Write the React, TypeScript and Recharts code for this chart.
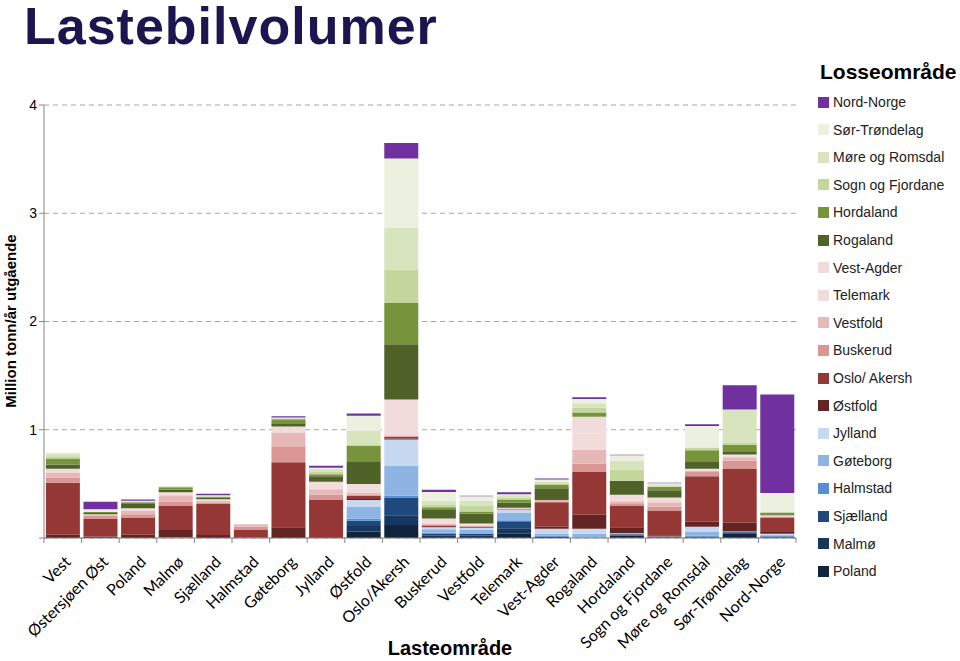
import { Bar, BarChart, CartesianGrid, XAxis, YAxis } from "recharts"

const categories = [
    "Vest", "Østersjøen Øst", "Poland", "Malmø", "Sjælland", "Halmstad", "Gøteborg", "Jylland", "Østfold", "Oslo/Akersh",
    "Buskerud", "Vestfold", "Telemark", "Vest-Agder", "Rogaland", "Hordaland", "Sogn og Fjordane", "Møre og Romsdal", "Sør-Trøndelag", "Nord-Norge",
]

// one array per unloading area, values in million tonnes, same order as categories
const poland = [0, 0, 0, 0, 0, 0, 0, 0, 0.06, 0.12, 0.01, 0.01, 0.04, 0.01, 0, 0.02, 0.005, 0.005, 0.04, 0.005]
const malmo = [0, 0, 0, 0, 0, 0, 0, 0, 0.05, 0.09, 0.01, 0.01, 0.05, 0, 0, 0.005, 0, 0, 0.01, 0]
const sjaelland = [0, 0, 0, 0, 0, 0, 0, 0, 0.05, 0.165, 0.02, 0.02, 0.065, 0.005, 0, 0.01, 0.005, 0.01, 0.01, 0.01]
const halmstad = [0, 0, 0, 0, 0, 0, 0, 0, 0.02, 0.015, 0.01, 0.005, 0.01, 0.005, 0.005, 0, 0, 0.005, 0.005, 0.005]
const goteborg = [0, 0, 0, 0, 0, 0, 0, 0, 0.11, 0.28, 0.03, 0.03, 0.065, 0.02, 0.035, 0.005, 0.005, 0.04, 0, 0.01]
const jylland = [0, 0, 0, 0.005, 0, 0, 0, 0, 0.06, 0.24, 0.02, 0.02, 0.03, 0.045, 0.045, 0.005, 0, 0.045, 0, 0.01]
const ostfold = [0.03, 0.015, 0.03, 0.07, 0.028, 0.005, 0.1, 0, 0.01, 0.01, 0, 0, 0, 0.02, 0.13, 0.055, 0.01, 0.045, 0.077, 0.015]
const oslo = [0.48, 0.16, 0.16, 0.22, 0.286, 0.068, 0.6, 0.35, 0.03, 0.015, 0.01, 0.01, 0.005, 0.225, 0.4, 0.2, 0.23, 0.42, 0.5, 0.13]
const buskerud = [0.05, 0.03, 0.03, 0.04, 0.015, 0.03, 0.148, 0.05, 0.01, 0.005, 0.01, 0.005, 0.005, 0.01, 0.07, 0.02, 0.035, 0.04, 0.075, 0.01]
const vestfold = [0.04, 0.01, 0.03, 0.06, 0.015, 0.025, 0.123, 0.05, 0.02, 0.01, 0.01, 0.005, 0.005, 0.01, 0.13, 0.02, 0.04, 0.01, 0.03, 0.005]
const telemark = [0.02, 0.005, 0.015, 0.015, 0.01, 0, 0.03, 0.04, 0.04, 0.15, 0.025, 0.01, 0, 0, 0.15, 0.03, 0.02, 0.01, 0.015, 0.005]
const vestAgder = [0.02, 0, 0.01, 0.013, 0.005, 0, 0.03, 0.03, 0.04, 0.18, 0.025, 0.01, 0.005, 0, 0.155, 0.03, 0.025, 0.01, 0.01, 0.005]
const rogaland = [0.04, 0.01, 0.04, 0.025, 0.015, 0, 0.03, 0.05, 0.21, 0.51, 0.085, 0.09, 0.045, 0.11, 0, 0.13, 0.065, 0.07, 0.03, 0.01]
const hordaland = [0.055, 0.01, 0.015, 0.02, 0.005, 0, 0.037, 0.02, 0.14, 0.38, 0.02, 0.02, 0.03, 0.03, 0.04, 0, 0.03, 0.1, 0.06, 0.015]
const sogn = [0.02, 0, 0.005, 0.005, 0.005, 0, 0.005, 0.02, 0.01, 0.31, 0.02, 0.05, 0.02, 0.015, 0.045, 0.1, 0, 0.025, 0.015, 0]
const more = [0.02, 0.005, 0.005, 0.005, 0.005, 0, 0.005, 0.03, 0.13, 0.385, 0.04, 0.05, 0.02, 0.015, 0.04, 0.085, 0.02, 0, 0.31, 0.005]
const sorTrondelag = [0.015, 0.02, 0.005, 0.005, 0.005, 0, 0.005, 0.01, 0.14, 0.64, 0.08, 0.04, 0.01, 0.02, 0.04, 0.05, 0.015, 0.2, 0, 0.175]
const nordNorge = [0, 0.07, 0.01, 0, 0.015, 0, 0.012, 0.018, 0.02, 0.145, 0.02, 0.005, 0.018, 0.01, 0.015, 0.005, 0.005, 0.015, 0.225, 0.91]

const yTicks = [0, 1, 2, 3, 4]

// bottom of the stack first
const series = [
    { name: "Poland", values: poland, color: "#10243E" },
    { name: "Malmø", values: malmo, color: "#17375E" },
    { name: "Sjælland", values: sjaelland, color: "#1F497D" },
    { name: "Halmstad", values: halmstad, color: "#558ED5" },
    { name: "Gøteborg", values: goteborg, color: "#8DB4E2" },
    { name: "Jylland", values: jylland, color: "#C6D9F1" },
    { name: "Østfold", values: ostfold, color: "#632523" },
    { name: "Oslo/ Akersh", values: oslo, color: "#953735" },
    { name: "Buskerud", values: buskerud, color: "#D99694" },
    { name: "Vestfold", values: vestfold, color: "#E6B9B8" },
    { name: "Telemark", values: telemark, color: "#F2DCDB" },
    { name: "Vest-Agder", values: vestAgder, color: "#F2DCDB" },
    { name: "Rogaland", values: rogaland, color: "#4F6228" },
    { name: "Hordaland", values: hordaland, color: "#77933C" },
    { name: "Sogn og Fjordane", values: sogn, color: "#C3D69B" },
    { name: "Møre og Romsdal", values: more, color: "#D7E4BD" },
    { name: "Sør-Trøndelag", values: sorTrondelag, color: "#EBF1DE" },
    { name: "Nord-Norge", values: nordNorge, color: "#7030A0" },
]

const data = categories.map((cat, i) => {
    const row: Record<string, string | number> = { cat }
    series.forEach((s, k) => {
        row["s" + k] = s.values[i]
    })
    return row
})

const W = 960
const H = 661
const PLOT_LEFT = 44
const PLOT_RIGHT = 796
const BAND = (PLOT_RIGHT - PLOT_LEFT) / categories.length

const XTick = (props: any) => {
    const { x, y, payload, index } = props
    return (
        <g>
            <line x1={x - BAND / 2} x2={x - BAND / 2} y1={y} y2={y + 5} stroke="#868686" />
            {index === categories.length - 1 && <line x1={x + BAND / 2} x2={x + BAND / 2} y1={y} y2={y + 5} stroke="#868686" />}
            <text
                transform={`translate(${x + 9},${y + 25}) rotate(-45)`}
                textAnchor="end"
                fontSize={16}
                fontFamily="Lato"
                fill="#000"
            >
                {payload.value}
            </text>
        </g>
    )
}

const App = () => {
    return (
        <div style={{ position: "absolute", left: 0, top: 0, width: W, height: H, background: "#fff", fontFamily: "Liberation Sans", overflow: "hidden" }}>
            <div style={{ position: "absolute", left: 24, top: 0, fontSize: 52, lineHeight: "52px", letterSpacing: 1, fontWeight: "bold", color: "#1D1550", whiteSpace: "nowrap" }}>
                Lastebilvolumer
            </div>
            <div
                style={{
                    position: "absolute",
                    left: 10,
                    top: 321,
                    transform: "translate(-50%, -50%) rotate(-90deg)",
                    fontSize: 15,
                    fontWeight: "bold",
                    whiteSpace: "nowrap",
                }}
            >
                Million tonn/år utgående
            </div>
            <div style={{ position: "absolute", left: 450, top: 648, transform: "translate(-50%, -50%)", fontSize: 20, lineHeight: "22px", fontWeight: "bold", whiteSpace: "nowrap" }}>
                Lasteområde
            </div>
            <div style={{ position: "absolute", left: 820, top: 72, transform: "translateY(-50%)", fontSize: 21, fontWeight: "bold", whiteSpace: "nowrap" }}>
                Losseområde
            </div>
            {[...series].reverse().map((s, i) => (
                <div key={s.name} style={{ position: "absolute", left: 818, top: 102 + i * 27.6, transform: "translateY(-50%)", display: "flex", alignItems: "center", fontSize: 14, color: "#222", whiteSpace: "nowrap" }}>
                    <span style={{ display: "inline-block", width: 11, height: 11, background: s.color, marginRight: 4 }} />
                    {s.name}
                </div>
            ))}
            <div style={{ position: "absolute", left: 0, top: 0 }}>
                <BarChart width={W} height={H} data={data} margin={{ top: 105, right: W - PLOT_RIGHT, bottom: 0, left: 0 }} barCategoryGap="5%">
                    <CartesianGrid vertical={false} stroke="#A6A6A6" strokeDasharray="5 4" />
                    <XAxis dataKey="cat" height={123} interval={0} tickSize={0} tickMargin={0} axisLine={{ stroke: "#868686" }} tickLine={false} tick={<XTick />} />
                    <YAxis
                        width={PLOT_LEFT}
                        domain={[0, 4]}
                        ticks={yTicks}
                        tickFormatter={(v: number) => (v === 0 ? "" : String(v))}
                        axisLine={{ stroke: "#868686" }}
                        tickLine={{ stroke: "#868686" }}
                        tickSize={5}
                        tickMargin={2}
                        tick={{ fontSize: 14, fill: "#000", fontFamily: "Liberation Sans" }}
                    />
                    {series.map((s, k) => (
                        <Bar key={s.name} dataKey={"s" + k} name={s.name} stackId="a" fill={s.color} isAnimationActive={false} />
                    ))}
                </BarChart>
            </div>
        </div>
    )
}

export default App
